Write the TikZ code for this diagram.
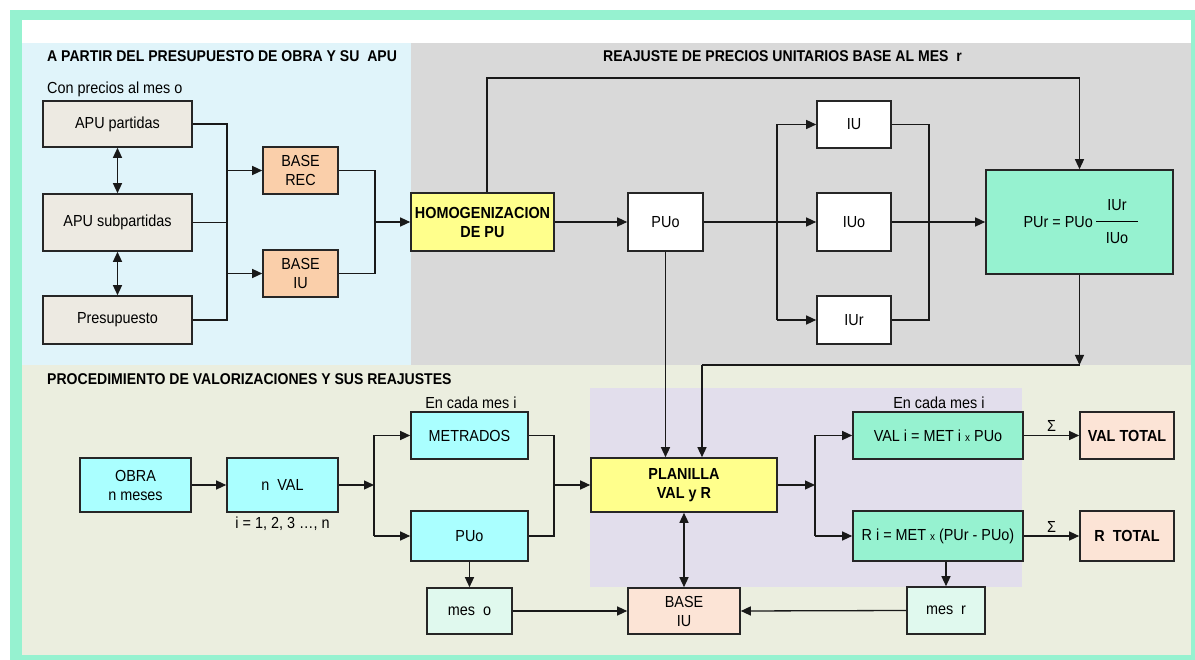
\documentclass[tikz,border=0pt]{standalone}
\usepackage{fontspec}
\setmainfont{Liberation Sans}[FakeStretch=0.9]
\usetikzlibrary{arrows.meta}
\definecolor{mint}{HTML}{96F2D0}
\definecolor{lblue}{HTML}{E0F4FA}
\definecolor{lgray}{HTML}{D9D9D9}
\definecolor{lgreen}{HTML}{EBEEDF}
\definecolor{lpurple}{HTML}{E2DEEC}
\definecolor{beige}{HTML}{EDEAE2}
\definecolor{orng}{HTML}{FACFAA}
\definecolor{yel}{HTML}{FFFF8C}
\definecolor{cyanb}{HTML}{AAFFFF}
\definecolor{peach}{HTML}{FCE4D6}
\definecolor{palemint}{HTML}{E0F9EE}
\newcommand{\fsz}{\fontsize{16}{19}\selectfont}
\newcommand{\ttlf}{\fontsize{15.6}{17}\selectfont\bfseries}
\newcommand{\smx}{{\fontsize{11}{11}\selectfont x}}
\begin{document}
\begin{tikzpicture}[x=1pt,y=-1pt,
  box/.style={draw=black!85,line width=1.6pt,inner sep=0pt,align=center,font=\fsz},
  bbox/.style={box,font=\fsz\bfseries},
  ln/.style={line width=1.3pt,draw=black!90},
  arr/.style={ln,-{Triangle[length=10pt,width=9pt]}},
  darr/.style={ln,{Triangle[length=10pt,width=9pt]}-{Triangle[length=10pt,width=9pt]}},
  ttl/.style={anchor=west,inner sep=0pt,font=\ttlf},
  lbl/.style={inner sep=0pt,font=\fsz}]
\useasboundingbox (0,0) rectangle (1195,660);
% backgrounds
\fill[white] (0,0) rectangle (1195,660);
\fill[mint] (10,10) rectangle (1195,660);
\fill[white] (22,20) rectangle (1191,43);
\fill[lblue] (22,43) rectangle (411,365);
\fill[lgray] (411,43) rectangle (1191,365);
\fill[lgreen] (22,365) rectangle (1191,655);
\fill[lpurple] (590,388) rectangle (1022,587);
% titles
\node[ttl] (t1) at (47,56) {A PARTIR DEL PRESUPUESTO DE OBRA Y SU \ APU};
\node[lbl,anchor=west] (t2) at (47,89) {Con precios al mes o};
\node[ttl] (t3) at (603,56) {REAJUSTE DE PRECIOS UNITARIOS BASE AL MES \ r};
\node[ttl] (t4) at (47,379) {PROCEDIMIENTO DE VALORIZACIONES Y SUS REAJUSTES};
\node[lbl] (t5) at (471,403) {En cada mes i};
\node[lbl] (t6) at (939,403) {En cada mes i};
% top-left boxes
\node[box,fill=beige,minimum width=149pt,minimum height=46pt] (apup) at (117.5,124) {APU partidas};
\node[box,fill=beige,minimum width=149pt,minimum height=57pt] (apus) at (117.5,222.5) {APU subpartidas};
\node[box,fill=beige,minimum width=149pt,minimum height=48pt] (pres) at (117.5,320) {Presupuesto};
\node[box,fill=orng,minimum width=75pt,minimum height=47pt] (baserec) at (300.5,170.5) {BASE\\REC};
\node[box,fill=orng,minimum width=75pt,minimum height=47pt] (baseiu) at (300.5,273.5) {BASE\\IU};
\node[bbox,fill=yel,minimum width=143pt,minimum height=58pt] (homog) at (482.5,222) {HOMOGENIZACION\\DE PU};
\node[box,fill=white,minimum width=75pt,minimum height=58pt] (puo) at (665.5,222) {PUo};
\node[box,fill=white,minimum width=74pt,minimum height=47pt] (iu) at (854,124.5) {IU};
\node[box,fill=white,minimum width=74pt,minimum height=58pt] (iuo) at (854,222) {IUo};
\node[box,fill=white,minimum width=74pt,minimum height=48pt] (iur) at (854,320) {IUr};
\node[box,fill=mint,minimum width=187pt,minimum height=104pt] (pur) at (1079.5,222) {};
\node[lbl,anchor=east] (pureq) at (1093,222) {PUr = PUo};
\coordinate (fl) at (1096,222);
\coordinate (fr) at (1138,222);
\draw[line width=1pt] (fl) -- (fr);
\node[lbl] (fnum) at (1117,205) {IUr};
\node[lbl] (fden) at (1117,238) {IUo};
% bottom boxes
\node[box,fill=cyanb,minimum width=111pt,minimum height=54pt] (obra) at (135.5,485) {OBRA\\n meses};
\node[box,fill=cyanb,minimum width=111pt,minimum height=54pt] (nval) at (282.5,485) {n\ \ VAL};
\node[lbl] (ilab) at (282.5,524) {i = 1, 2, 3 …, n};
\node[box,fill=cyanb,minimum width=117pt,minimum height=47pt] (metr) at (469.5,435.5) {METRADOS};
\node[box,fill=cyanb,minimum width=117pt,minimum height=50pt] (puo2) at (469.5,536) {PUo};
\node[box,fill=palemint,minimum width=85pt,minimum height=46pt] (meso) at (469.5,611) {mes\ \ o};
\node[bbox,fill=yel,minimum width=186pt,minimum height=54pt] (plan) at (684,485) {PLANILLA\\VAL y R};
\node[box,fill=peach,minimum width=112pt,minimum height=46pt] (baseiu2) at (684,611) {BASE\\IU};
\node[box,fill=mint,minimum width=170pt,minimum height=47pt] (vali) at (938,435.5) {VAL i = MET i \smx\ PUo};
\node[box,fill=mint,minimum width=170pt,minimum height=50pt] (ri) at (938,536) {R i = MET \smx\ (PUr - PUo)};
\node[box,fill=palemint,minimum width=78pt,minimum height=47pt] (mesr) at (946,610.5) {mes\ \ r};
\node[bbox,fill=peach,minimum width=94pt,minimum height=47pt] (valt) at (1127,435.5) {VAL TOTAL};
\node[bbox,fill=peach,minimum width=94pt,minimum height=50pt] (rt) at (1127,536) {R\ \ TOTAL};
% top-left connectors
\coordinate (bus1) at (227,124);
\coordinate (bus2) at (227,320);
\draw[ln] (apup.east) -- (bus1) -- (bus2) -- (pres.east);
\draw[ln] (apus.east) -- (apus.east -| bus1);
\draw[arr] (bus1 |- baserec) -- (baserec.west);
\draw[arr] (bus1 |- baseiu) -- (baseiu.west);
\draw[darr] (apup.south) -- (apus.north);
\draw[darr] (apus.south) -- (pres.north);
\coordinate (m1) at (375,170.5);
\coordinate (m2) at (375,273.5);
\draw[ln] (baserec.east) -- (m1) -- (m2) -- (baseiu.east);
\draw[arr] (m1 |- homog) -- (homog.west);
% top-right connectors
\coordinate (t1c) at (1079.5,78);
\draw[arr] ([xshift=4.5pt]homog.north) |- (t1c) -- (pur.north);
\draw[arr] (homog.east) -- (puo.west);
\draw[arr] (puo.east) -- (iuo.west);
\coordinate (n1) at (777,124.5);
\coordinate (n2) at (777,320);
\draw[ln] (n1) -- (n2);
\draw[arr] (n1) -- (iu.west);
\draw[arr] (n2) -- (iur.west);
\coordinate (p1) at (929,124.5);
\coordinate (p2) at (929,320);
\draw[ln] (iu.east) -- (p1) -- (p2) -- (iur.east);
\draw[arr] (iuo.east) -- (pur.west);
\coordinate (j1) at (1079.5,365);
\coordinate (j2) at (702,365);
\draw[arr] (pur.south) -- (j1);
\draw[ln] (j1) -- (j2);
\draw[arr] (j2) -- (j2 |- plan.north);
\draw[arr] (puo.south) -- (puo.south |- plan.north);
% bottom connectors
\draw[arr] (obra.east) -- (nval.west);
\coordinate (q1) at (374,435.5);
\coordinate (q2) at (374,536);
\draw[arr] (nval.east) -- (nval.east -| q1);
\draw[ln] (q1) -- (q2);
\draw[arr] (q1) -- (metr.west);
\draw[arr] (q2) -- (puo2.west);
\coordinate (r1) at (554,435.5);
\coordinate (r2) at (554,536);
\draw[ln] (metr.east) -- (r1) -- (r2) -- (puo2.east);
\draw[arr] (r1 |- plan) -- (plan.west);
\coordinate (s1) at (815,435.5);
\coordinate (s2) at (815,536);
\draw[arr] (plan.east) -- (plan.east -| s1);
\draw[ln] (s1) -- (s2);
\draw[arr] (s1) -- (vali.west);
\draw[arr] (s2) -- (ri.west);
\draw[arr] (vali.east) -- node[lbl,above=3pt] {Σ} (valt.west);
\draw[arr] (ri.east) -- node[lbl,above=3pt] {Σ} (rt.west);
\draw[arr] (puo2.south) -- (meso.north);
\draw[arr] (meso.east) -- (baseiu2.west);
\draw[arr] (ri.south -| mesr.north) -- (mesr.north);
\draw[arr] (mesr.west) -- (baseiu2.east);
\draw[darr] (plan.south) -- (baseiu2.north);
\end{tikzpicture}
\end{document}
